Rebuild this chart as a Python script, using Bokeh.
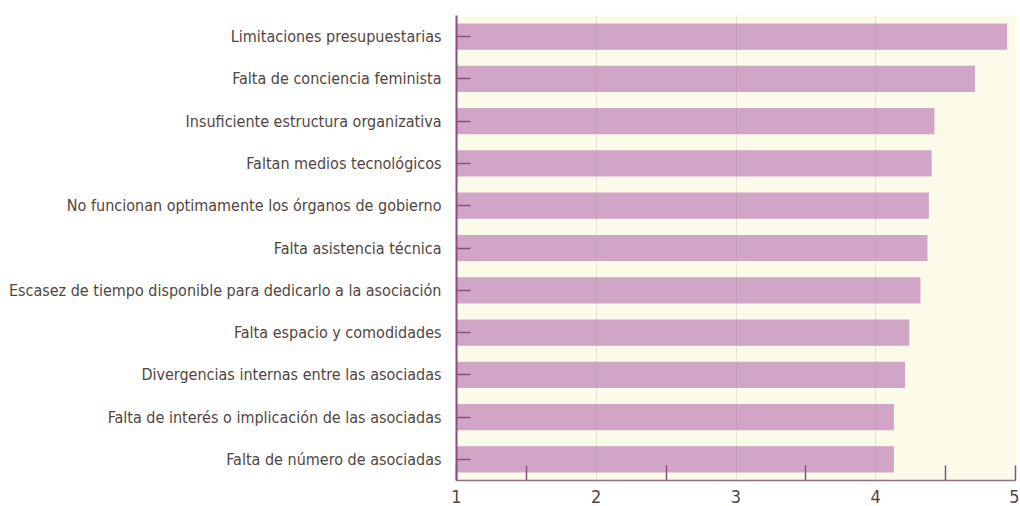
from bokeh.plotting import figure
from bokeh.models import Range1d, FactorRange, FixedTicker
from bokeh.embed import file_html
from bokeh.resources import INLINE

categories = [
    "Limitaciones presupuestarias",
    "Falta de conciencia feminista",
    "Insuficiente estructura organizativa",
    "Faltan medios tecnológicos",
    "No funcionan optimamente los órganos de gobierno",
    "Falta asistencia técnica",
    "Escasez de tiempo disponible para dedicarlo a la asociación",
    "Falta espacio y comodidades",
    "Divergencias internas entre las asociadas",
    "Falta de interés o implicación de las asociadas",
    "Falta de número de asociadas",
]
values = [4.94, 4.71, 4.42, 4.40, 4.38, 4.37, 4.32, 4.24, 4.21, 4.13, 4.13]
x_ticks = [1, 2, 3, 4, 5]

FONT = "DejaVu Sans Condensed"
TEXT = "#51453f"

p = figure(
    y_range=FactorRange(factors=categories[::-1], range_padding=0),
    x_range=Range1d(1, 5),
    frame_width=559, frame_height=465,
    min_border_left=456, min_border_top=15, min_border_right=4, min_border_bottom=26,
    output_backend="svg", toolbar_location=None,
    background_fill_color="#fcfbea", border_fill_color="white",
)
p.outline_line_color = None

p.hbar(y=categories, left=1, right=values, height=0.62,
       fill_color="#d1a5c6", line_color=None)

p.xaxis.ticker = FixedTicker(ticks=x_ticks, minor_ticks=[1, 1.5, 2.5, 3.5, 4.5, 5])
p.xaxis.major_tick_in = 0
p.xaxis.major_tick_out = 0
p.xaxis.minor_tick_in = 15
p.xaxis.minor_tick_out = 0
p.xaxis.minor_tick_line_color = "#8a4f80"
p.xaxis.minor_tick_line_width = 1.5
p.xaxis.axis_line_color = "#8c6f86"
p.xaxis.axis_line_width = 1.5
p.xaxis.major_label_text_font = FONT
p.xaxis.major_label_text_font_size = "18px"
p.xaxis.major_label_text_color = TEXT
p.xaxis.major_label_standoff = 9

p.yaxis.major_tick_in = 14
p.yaxis.major_tick_out = 0
p.yaxis.major_tick_line_color = "#8a4f80"
p.yaxis.major_tick_line_width = 1.5
p.yaxis.axis_line_color = "#8e4b84"
p.yaxis.axis_line_width = 2
p.yaxis.major_label_text_font = FONT
p.yaxis.major_label_text_font_size = "16px"
p.yaxis.major_label_text_color = TEXT
p.yaxis.major_label_standoff = 15

p.ygrid.grid_line_color = None
p.xgrid.grid_line_color = "#9a8a70"
p.xgrid.grid_line_alpha = 0.2
p.xgrid.level = "overlay"

open("out.html", "w").write(file_html(p, INLINE))
